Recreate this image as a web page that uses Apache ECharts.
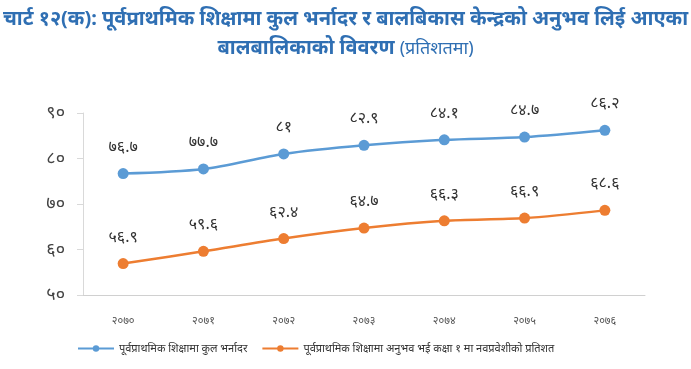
<!DOCTYPE html>
<html><head><meta charset="utf-8">
<script src="https://cdn.jsdelivr.net/npm/echarts@6/dist/echarts.min.js"></script>
<style>html,body{margin:0;padding:0;background:#fff}#c{width:691px;height:369px}</style>
</head><body><div id="c"></div>
<script>
const titleLine1 = "चार्ट १२(क): पूर्वप्राथमिक शिक्षामा कुल भर्नादर र बालबिकास केन्द्रको अनुभव लिई आएका";
const titleLine2 = "बालबालिकाको विवरण";
const titleUnit = "(प्रतिशतमा)";
const categories = ["२०७०","२०७१","२०७२","२०७३","२०७४","२०७५","२०७६"];
const seriesNames = ["पूर्वप्राथमिक शिक्षामा कुल भर्नादर","पूर्वप्राथमिक शिक्षामा अनुभव भई कक्षा १ मा नवप्रवेशीको प्रतिशत"];
const enrolment = [76.7, 77.7, 81, 82.9, 84.1, 84.7, 86.2];
const experienced = [56.9, 59.6, 62.4, 64.7, 66.3, 66.9, 68.6];
const yTicks = [50, 60, 70, 80, 90];

const dev = ['०','१','२','३','४','५','६','७','८','९'];
function toDev(v){ return String(v).replace(/[0-9]/g, d => dev[+d]); }

const chart = echarts.init(document.getElementById('c'));
const font = "'Noto Sans','Noto Sans Devanagari',sans-serif";
chart.setOption({
  animation:false,
  textStyle:{fontFamily:font},
  title:{
    text: titleLine1 + "\n{b|" + titleLine2 + "} {n|" + titleUnit + "}",
    left:'center', top:0,
    textStyle:{fontSize:20, fontWeight:'bold', color:'#2F6FB3', lineHeight:29, fontFamily:font,
      rich:{b:{fontSize:20,fontWeight:'bold',color:'#2F6FB3',fontFamily:font},
            n:{fontSize:18,fontWeight:'normal',color:'#2F6FB3',fontFamily:font}}}
  },
  grid:{left:83, right:46, top:113, bottom:74},
  legend:{
    bottom:10, left:72, itemWidth:36, itemHeight:8, itemGap:14,
    textStyle:{fontSize:11, color:'#333'},
    data: seriesNames
  },
  xAxis:{
    type:'category', data:categories, boundaryGap:true,
    axisLine:{lineStyle:{color:'#d0d0d0', width:1}},
    axisTick:{show:false},
    axisLabel:{fontSize:11, color:'#555', margin:20}
  },
  yAxis:{
    type:'value', min:50, max:90, interval:10,
    axisLine:{show:true, lineStyle:{color:'#d9d9d9'}},
    axisTick:{show:true, length:6, lineStyle:{color:'#d9d9d9'}},
    splitLine:{show:false},
    axisLabel:{fontSize:18, color:'#444', margin:18, formatter:v => toDev(v)}
  },
  series:[
    {name:seriesNames[0], type:'line', data:enrolment, smooth:0.3, symbol:'circle', symbolSize:11,
     itemStyle:{color:'#5B9BD5'}, lineStyle:{width:2.5, color:'#5B9BD5'},
     label:{show:true, position:'top', distance:13, fontSize:16, color:'#333', formatter:p => toDev(p.value)}},
    {name:seriesNames[1], type:'line', data:experienced, smooth:0.3, symbol:'circle', symbolSize:11,
     itemStyle:{color:'#ED7D31'}, lineStyle:{width:2.5, color:'#ED7D31'},
     label:{show:true, position:'top', distance:13, fontSize:16, color:'#333', formatter:p => toDev(p.value)}}
  ]
});
</script></body></html>
